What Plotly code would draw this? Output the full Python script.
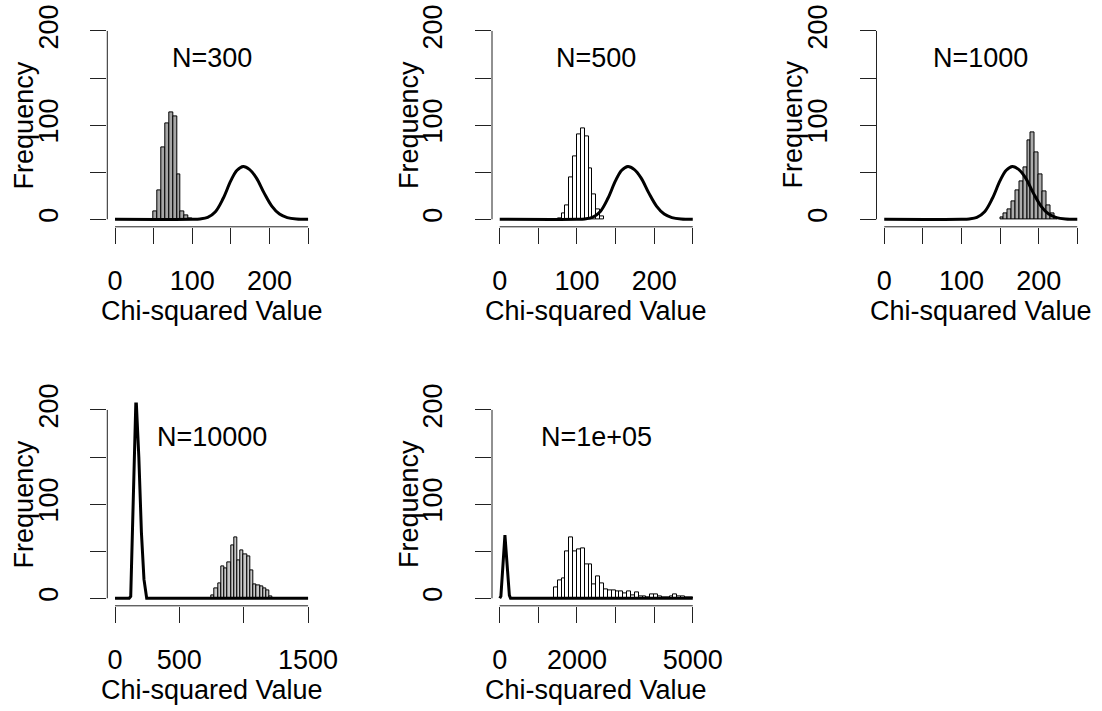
import plotly.graph_objects as go

# ---------------- data ----------------
titles = ["N=300", "N=500", "N=1000", "N=10000", "N=1e+05"]

# histogram bin left edges, bin width and counts
edges_300 = [50, 55, 60, 65, 70, 75, 80, 85, 90, 95]
width_300 = 5
counts_300 = [8, 31, 76, 102, 113, 109, 48, 8, 4, 1]

edges_500 = [75, 80, 85, 90, 95, 100, 105, 110, 115, 120, 125, 130]
width_500 = 5
counts_500 = [1, 6, 15, 44, 67, 90, 96, 88, 54, 26, 10, 3]

edges_1000 = [150, 155, 160, 165, 170, 175, 180, 185, 190, 195, 200, 205, 210, 215, 220]
width_1000 = 5
counts_1000 = [2, 6, 10, 19, 31, 40, 55, 84, 92, 71, 48, 30, 15, 6, 2]

edges_10000 = [750, 775, 800, 825, 850, 875, 900, 925, 950, 975, 1000, 1025, 1050,
               1075, 1100, 1125, 1150, 1175, 1200]
width_10000 = 25
counts_10000 = [3, 10, 16, 34, 32, 38, 56, 65, 40, 51, 47, 44, 30, 15, 14, 13, 10, 8, 2]

edges_1e5 = [1400, 1500, 1600, 1700, 1800, 1900, 2000, 2100, 2200, 2300, 2400, 2500,
             2600, 2700, 2800, 2900, 3000, 3100, 3200, 3300, 3400, 3500, 3600, 3700,
             3800, 3900, 4000, 4100, 4200, 4300, 4400, 4500, 4600, 4700, 4800, 4900]
width_1e5 = 100
counts_1e5 = [12, 19, 21, 50, 65, 50, 52, 53, 36, 36, 15, 23,
              16, 9, 8, 8, 7, 7, 5, 7, 3, 6, 2, 2,
              1, 4, 4, 2, 1, 1, 2, 4, 2, 2, 1, 1]

# reference curve
curve_small_x = [0, 100, 110, 120, 130, 140, 150, 158, 166, 174, 183, 193, 203, 213, 223, 235, 250]
curve_small_y = [0, 0, 0.4, 2, 8, 22, 41, 52, 56, 53, 44, 28, 14, 5.5, 1.8, 0.3, 0]

curve_10000_x = [0, 110, 122, 140, 163, 185, 205, 225, 246, 1500]
curve_10000_y = [0, 0, 2, 90, 215, 150, 70, 20, 0, 0]

curve_1e5_x = [0, 30, 135, 250, 280, 5000]
curve_1e5_y = [0, 2, 67, 3, 0, 0]

# axis ticks
x_ticks_small = [0, 50, 100, 150, 200, 250]
x_text_small = ["0", "", "100", "", "200", ""]
x_ticks_10000 = [0, 500, 1000, 1500]
x_text_10000 = ["0", "500", "", "1500"]
x_ticks_1e5 = [0, 1000, 2000, 3000, 4000, 5000]
x_text_1e5 = ["0", "", "2000", "", "", "5000"]
y_ticks = [0, 50, 100, 150, 200]
y_text = ["0", "", "100", "", "200"]

x_label = "Chi-squared Value"
y_label = "Frequency"

# ---------------- layout geometry (pixels) ----------------
W, H = 1102, 711
FONT = "Liberation Sans, Arial, Helvetica, sans-serif"
FS = 27
AXIS_COLOR = "#222222"
col_left = [107.3, 492.0, 876.5]
col_w = 208.5
row_tb = [(23.4, 226.8), (402.4, 605.8)]

panels = [
    dict(edges=edges_300, w=width_300, counts=counts_300, cx=curve_small_x, cy=curve_small_y,
         xr=[-10, 260], xt=x_ticks_small, xtt=x_text_small, fill="#a6a6a6", col=0, row=0, shape="spline"),
    dict(edges=edges_500, w=width_500, counts=counts_500, cx=curve_small_x, cy=curve_small_y,
         xr=[-10, 260], xt=x_ticks_small, xtt=x_text_small, fill="white", col=1, row=0, shape="spline"),
    dict(edges=edges_1000, w=width_1000, counts=counts_1000, cx=curve_small_x, cy=curve_small_y,
         xr=[-10, 260], xt=x_ticks_small, xtt=x_text_small, fill="#ababab", col=2, row=0, shape="spline"),
    dict(edges=edges_10000, w=width_10000, counts=counts_10000, cx=curve_10000_x, cy=curve_10000_y,
         xr=[-60, 1560], xt=x_ticks_10000, xtt=x_text_10000, fill="#c8c8c8", col=0, row=1, shape="linear"),
    dict(edges=edges_1e5, w=width_1e5, counts=counts_1e5, cx=curve_1e5_x, cy=curve_1e5_y,
         xr=[-200, 5200], xt=x_ticks_1e5, xtt=x_text_1e5, fill="white", col=1, row=1, shape="linear"),
]

fig = go.Figure()
layout = dict(template="none", width=W, height=H, autosize=False,
              margin=dict(l=0, r=0, t=0, b=0, pad=0),
              paper_bgcolor="white", plot_bgcolor="white", showlegend=False,
              font=dict(family=FONT, size=FS, color="black"))
shapes = []
annotations = []

for i, p in enumerate(panels):
    n = "" if i == 0 else str(i + 1)
    xa, ya = "x" + n, "y" + n
    left = col_left[p["col"]]
    top, bot = row_tb[p["row"]]
    xdom = [left / W, (left + col_w) / W]
    ydom = [1 - bot / H, 1 - top / H]

    mids = [e + p["w"] / 2 for e in p["edges"]]
    fig.add_trace(go.Bar(x=mids, y=p["counts"], width=[p["w"]] * len(mids),
                         marker=dict(color=p["fill"], line=dict(color="black", width=1)),
                         xaxis=xa, yaxis=ya, hoverinfo="skip"))
    fig.add_trace(go.Scatter(x=p["cx"], y=p["cy"], mode="lines",
                             line=dict(color="black", width=3, shape=p["shape"]),
                             xaxis=xa, yaxis=ya, hoverinfo="skip"))

    layout["xaxis" + n] = dict(domain=xdom, range=p["xr"], anchor=ya, automargin=False,
                               tickmode="array", tickvals=p["xt"], ticktext=p["xtt"],
                               ticks="outside", ticklen=16, tickwidth=1, tickcolor=AXIS_COLOR,
                               showline=False, showgrid=False, zeroline=False,
                               tickfont=dict(family=FONT, size=FS, color="black"),
                               ticklabelstandoff=14, fixedrange=True)
    layout["yaxis" + n] = dict(domain=ydom, range=[-8, 208], anchor=xa, automargin=False,
                               tickmode="array", tickvals=y_ticks, ticktext=y_text,
                               ticks="outside", ticklen=16, tickwidth=1, tickcolor=AXIS_COLOR,
                               tickangle=-90,
                               showline=False, showgrid=False, zeroline=False,
                               tickfont=dict(family=FONT, size=FS, color="black"),
                               ticklabelstandoff=22, fixedrange=True)
    # axis lines spanning first to last tick (R style)
    shapes.append(dict(type="line", xref=xa, yref=ya + " domain",
                       x0=p["xt"][0], x1=p["xt"][-1], y0=0, y1=0,
                       line=dict(color=AXIS_COLOR, width=1)))
    shapes.append(dict(type="line", xref=xa + " domain", yref=ya,
                       x0=0, x1=0, y0=y_ticks[0], y1=y_ticks[-1],
                       line=dict(color=AXIS_COLOR, width=1)))
    # panel title inside plot area
    annotations.append(dict(text=titles[i], xref=xa + " domain", yref="paper",
                            x=0.5, y=1 - (top + 35) / H, xanchor="center", yanchor="middle",
                            showarrow=False, font=dict(family=FONT, size=FS, color="black")))
    # x label
    annotations.append(dict(text=x_label, xref=xa + " domain", yref="paper",
                            x=0.5, y=1 - (bot + 84) / H, xanchor="center", yanchor="middle",
                            showarrow=False, font=dict(family=FONT, size=FS, color="black")))
    # y label
    annotations.append(dict(text=y_label, xref="paper", yref=ya + " domain",
                            x=(left - 83) / W, y=0.5, xanchor="center", yanchor="middle",
                            textangle=-90,
                            showarrow=False, font=dict(family=FONT, size=FS, color="black")))

layout["shapes"] = shapes
layout["annotations"] = annotations
layout["bargap"] = 0
fig.update_layout(**layout)
fig.write_html("out.html")
